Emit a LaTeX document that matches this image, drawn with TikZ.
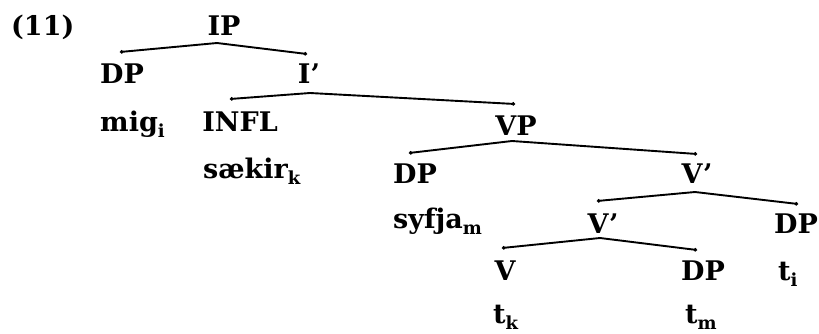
\documentclass[tikz,border=0pt]{standalone}
\usepackage{fontspec}
\setmainfont{DejaVu Serif}
\usetikzlibrary{arrows.meta}
\newcommand{\sbs}[1]{\raisebox{-6pt}{\fontsize{18}{18}\selectfont #1}}
\begin{document}
\begin{tikzpicture}[x=1pt,y=-1pt,
  cat/.style={anchor=base, inner sep=0pt, font=\fontsize{27}{30}\selectfont\bfseries},
  word/.style={anchor=base west, inner sep=0pt, font=\fontsize{27}{30}\selectfont\bfseries},
  br/.style={line width=1.9pt, line cap=round, -{Circle[length=3.4pt]}}]
\useasboundingbox (0,0) rectangle (819,333);
% labels
\node[word] (ex) at (11,35) {(11)};
\node[cat] (IP) at (224,35) {IP};
\node[cat] (DPa) at (122,83) {DP};
\node[cat] (Ib) at (309,83) {I’};
\node[word] (mig) at (100,131) {mig\sbs{i}};
\node[cat] (INFL) at (240,131) {INFL};
\node[cat] (VP) at (516,135) {VP};
\node[word] (saekir) at (203,178) {sækir\sbs{k}};
\node[cat] (DPb) at (415,183) {DP};
\node[cat] (Vba) at (697,183) {V’};
\node[word] (syfja) at (393,228) {syfja\sbs{m}};
\node[cat] (Vbb) at (603,233) {V’};
\node[cat] (DPc) at (796,233) {DP};
\node[cat] (V) at (505,280) {V};
\node[cat] (DPd) at (703,280) {DP};
\node[word] (ti) at (778,280) {t\sbs{i}};
\node[word] (tk) at (493,323) {t\sbs{k}};
\node[word] (tm) at (685,323) {t\sbs{m}};
% branches
\draw[br] ([xshift=-7pt,yshift=-8pt]IP.base) -- ([xshift=-2pt,yshift=31pt]DPa.base);
\draw[br] ([xshift=-7pt,yshift=-8pt]IP.base) -- ([xshift=-2pt,yshift=29pt]Ib.base);
\draw[br] ([xshift=1pt,yshift=-10pt]Ib.base) -- ([xshift=-10pt,yshift=32pt]INFL.base);
\draw[br] ([xshift=1pt,yshift=-10pt]Ib.base) -- ([xshift=-1pt,yshift=31pt]VP.base);
\draw[br] ([xshift=-4pt,yshift=-6pt]VP.base) -- ([xshift=-6pt,yshift=30pt]DPb.base);
\draw[br] ([xshift=-4pt,yshift=-6pt]VP.base) -- ([xshift=0pt,yshift=29pt]Vba.base);
\draw[br] ([xshift=-2pt,yshift=-9pt]Vba.base) -- ([xshift=-6pt,yshift=32pt]Vbb.base);
\draw[br] ([xshift=-2pt,yshift=-9pt]Vba.base) -- ([xshift=2pt,yshift=29pt]DPc.base);
\draw[br] ([xshift=-3pt,yshift=-5pt]Vbb.base) -- ([xshift=-3pt,yshift=32pt]V.base);
\draw[br] ([xshift=-3pt,yshift=-5pt]Vbb.base) -- ([xshift=-6pt,yshift=30pt]DPd.base);
\end{tikzpicture}
\end{document}
